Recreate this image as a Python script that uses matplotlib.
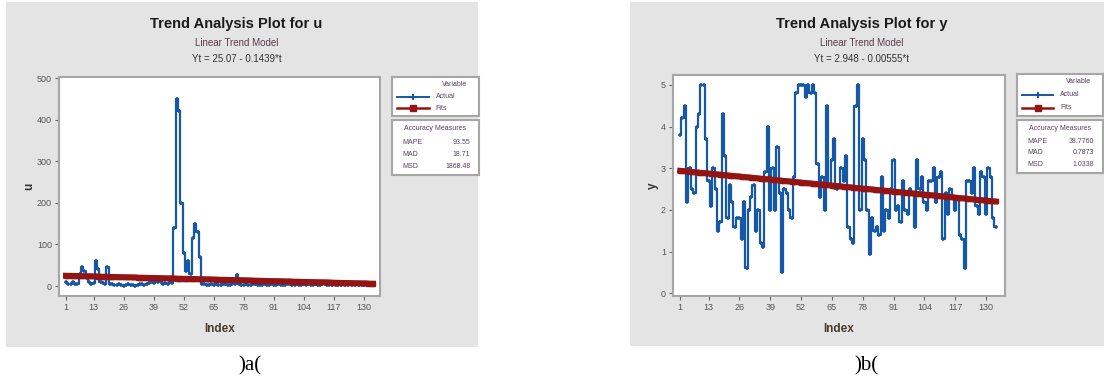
import matplotlib

matplotlib.use("Agg")
import matplotlib.pyplot as plt
from matplotlib.lines import Line2D
import numpy as np

# ---- data ------------------------------------------------------------------
u_actual = [
    10, 6, 5, 9, 5, 6, 30, 46, 35, 20,
    10, 5, 8, 60, 40, 10, 8, 5, 45, 6,
    4, 3, 2, 5, 3, 1, 2, 4, 3, 2,
    1, 3, 5, 4, 2, 6, 8, 10, 8, 12,
    9, 10, 6, 8, 5, 10, 8, 140, 450, 420,
    200, 80, 35, 60, 30, 115, 150, 130, 70, 5,
    4, 3, 2, 5, 3, 4, 2, 3, 5, 4,
    3, 2, 4, 6, 27, 5, 3, 2, 4, 3,
    2, 5, 4, 3, 2, 3, 4, 2, 3, 5,
    3, 2, 4, 3, 2, 3, 5, 4, 2, 3,
    4, 2, 3, 5, 3, 4, 2, 3, 4, 2,
    3, 5, 4, 2, 3, 2, 4, 3, 2, 3,
    4, 2, 3, 5, 3, 2, 4, 3, 2, 3,
    4, 2, 3, 2,
]
y_actual = [
    3.8, 4.2, 4.5, 2.2, 3.0, 2.5, 2.4, 4.0, 4.3, 5.0,
    5.0, 3.7, 2.7, 2.1, 3.0, 2.5, 1.5, 1.7, 4.3, 3.3,
    1.8, 2.6, 2.2, 1.6, 1.8, 1.8, 1.3, 2.2, 0.6, 2.0,
    2.3, 2.6, 1.5, 2.0, 1.2, 1.1, 2.9, 4.0, 2.0, 3.0,
    2.0, 3.5, 2.4, 0.5, 2.5, 2.4, 2.0, 1.8, 2.8, 4.8,
    5.0, 5.0, 5.0, 4.7, 5.0, 4.8, 5.0, 4.8, 3.1, 2.3,
    2.8, 2.0, 4.5, 2.6, 3.2, 3.7, 2.5, 2.6, 3.0, 2.7,
    3.3, 1.6, 1.3, 1.2, 4.5, 5.0, 2.0, 3.7, 3.2, 2.0,
    0.95, 1.8, 1.5, 1.6, 1.4, 2.8, 1.5, 2.0, 1.8, 2.5,
    3.2, 2.0, 2.1, 1.7, 2.7, 2.0, 1.9, 2.5, 2.4, 1.6,
    3.2, 2.5, 2.8, 2.2, 2.0, 2.7, 2.7, 3.0, 2.2, 2.8,
    2.9, 1.3, 2.4, 1.9, 2.5, 2.3, 2.0, 2.3, 1.4, 1.3,
    0.6, 2.7, 2.7, 2.4, 3.0, 2.1, 1.9, 2.9, 2.8, 1.9,
    3.0, 2.8, 1.8, 1.6,
]
# linear trend models printed on the chart: Yt = a + b*t
u_trend = (25.07, -0.1439)
y_trend = (2.948, -0.00555)

x_ticks = [1, 13, 26, 39, 52, 65, 78, 91, 104, 117, 130]
u_yticks = [0, 100, 200, 300, 400, 500]
y_yticks = [0, 1, 2, 3, 4, 5]

u_accuracy = [("MAPE", "93.55"), ("MAD", "18.71"), ("MSD", "1868.48")]
y_accuracy = [("MAPE", "38.7760"), ("MAD", "0.7873"), ("MSD", "1.0338")]

BLUE = "#1558a8"
RED = "#941414"
PANEL = "#e4e4e4"
FRAME = "#a6a6a6"
LEGTXT = "#5a4060"
W, H = 1104, 385

plt.rcParams["font.family"] = ["Liberation Sans", "DejaVu Sans"]


def px_rect(x0, y0, x1, y1):
    """pixel box (top-left origin) -> figure fraction rect"""
    return [x0 / W, (H - y1) / H, (x1 - x0) / W, (y1 - y0) / H]


def box_axes(fig, rect):
    b = fig.add_axes(px_rect(*rect))
    b.set_xlim(0, 1)
    b.set_ylim(0, 1)
    b.set_xticks([])
    b.set_yticks([])
    for s in b.spines.values():
        s.set_color(FRAME)
        s.set_linewidth(1.5)
    return b


def panel(fig, box, ax_box, leg_box, acc_box, actual, trend, var, yticks,
          ylim, xlim, accuracy, eq, caption, caption_x, ylab_pad):
    bg = fig.add_axes(px_rect(*box))
    bg.set_facecolor(PANEL)
    bg.set_xticks([])
    bg.set_yticks([])
    for s in bg.spines.values():
        s.set_visible(False)

    cx = (box[0] + box[2]) / 2 / W - 0.005
    fig.text(cx, 1 - 24 / H, f"Trend Analysis Plot for {var}", ha="center", va="center",
             fontsize=10.5, fontweight="bold", color="#1a1a1a")
    fig.text(cx, 1 - 43 / H, "Linear Trend Model", ha="center", va="center",
             fontsize=7, color="#5a3a4a")
    fig.text(cx, 1 - 59 / H, eq, ha="center", va="center", fontsize=7, color="#333333")

    ax = fig.add_axes(px_rect(*ax_box))
    t = np.arange(1, len(actual) + 1)
    fits = trend[0] + trend[1] * t
    ax.plot(t, fits, color=RED, lw=4.2, marker="s", ms=3.5, zorder=3)
    ax.plot(t, actual, color=BLUE, lw=1.6, drawstyle="steps-mid", zorder=2)
    ax.plot(t, actual, ls="none", marker="+", color=BLUE, ms=3, mew=1.1, zorder=2)
    ax.set_xlim(*xlim)
    ax.set_ylim(*ylim)
    ax.set_xticks(x_ticks)
    ax.set_yticks(yticks)
    ax.tick_params(labelsize=6.5, colors="#666666", length=3, width=0.8,
                   labelcolor="#555555", pad=2)
    for s in ax.spines.values():
        s.set_color(FRAME)
        s.set_linewidth(1.5)
    ax.set_xlabel("Index", fontsize=8.5, fontweight="bold", color="#4a3a2a", labelpad=8)
    ax.set_ylabel(var, fontsize=8.5, fontweight="bold", color="#333333", labelpad=ylab_pad)

    lg = box_axes(fig, leg_box)
    lg.text(0.72, 0.82, "Variable", ha="center", va="center", fontsize=5, color=LEGTXT)
    lg.add_line(Line2D([0.06, 0.42], [0.5, 0.5], color=BLUE, lw=1.4))
    lg.plot([0.24], [0.5], marker="+", color=BLUE, ms=5, mew=1.5)
    lg.text(0.5, 0.5, "Actual", va="center", fontsize=5, color=LEGTXT)
    lg.add_line(Line2D([0.06, 0.42], [0.2, 0.2], color=RED, lw=1.8))
    lg.plot([0.24], [0.2], marker="s", color=RED, ms=3.8)
    lg.text(0.5, 0.2, "Fits", va="center", fontsize=5, color=LEGTXT)

    ac = box_axes(fig, acc_box)
    ac.text(0.5, 0.84, "Accuracy Measures", ha="center", va="center", fontsize=5,
            color=LEGTXT)
    for k, (name, val) in enumerate(accuracy):
        yy = 0.6 - k * 0.22
        ac.text(0.12, yy, name, va="center", fontsize=5, color=LEGTXT)
        ac.text(0.9, yy, val, va="center", ha="right", fontsize=5, color=LEGTXT)

    fig.text(caption_x / W, 1 - 366 / H, caption, ha="center", va="center",
             fontsize=15, family=["Liberation Serif", "DejaVu Serif"])


fig = plt.figure(figsize=(W / 100, H / 100), dpi=100)
fig.patch.set_facecolor("white")

panel(fig, (6, 2, 478, 347), (59, 77, 380, 296), (392, 77, 479, 116), (392, 120, 479, 175),
      u_actual, u_trend, "u", u_yticks, (-24, 503), (-2, 137), u_accuracy,
      "Yt = 25.07 - 0.1439*t", ")a(", 250, 1)
panel(fig, (630, 2, 1104, 346), (673, 75, 1005, 296), (1017, 74, 1103, 116),
      (1017, 120, 1103, 173), y_actual, y_trend, "y", y_yticks, (-0.065, 5.24), (-2, 138),
      y_accuracy, "Yt = 2.948 - 0.00555*t", ")b(", 866, 1.5)

fig.savefig("out.png", dpi=100)
